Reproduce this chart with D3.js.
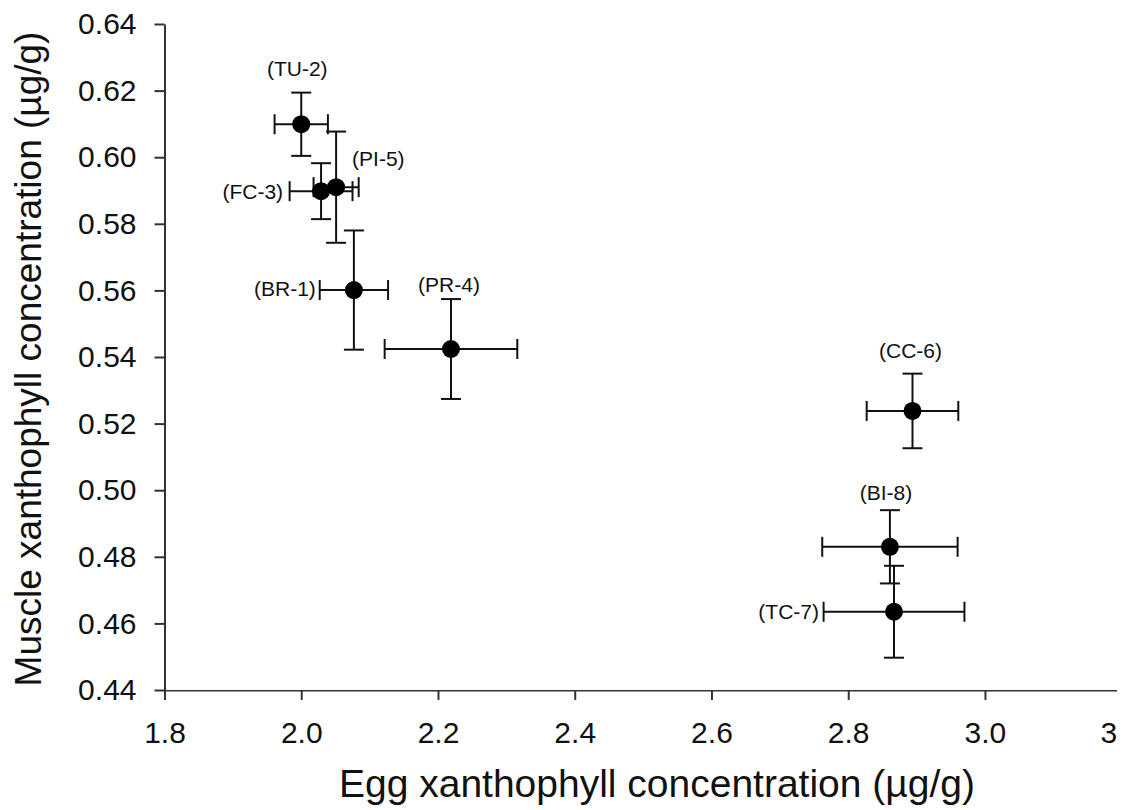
<!DOCTYPE html>
<html><head><meta charset="utf-8">
<script src="https://cdn.jsdelivr.net/npm/d3@7"></script>
<style>
body{margin:0;background:#fff}
svg{display:block}
text{font-family:"Liberation Sans",Arial,Helvetica,sans-serif;fill:#111}
</style>
</head><body>
<svg id="chart" width="1129" height="810"></svg>
<script>
// ---- data ----
const sites      = ["BR-1","TU-2","FC-3","PR-4","PI-5","CC-6","TC-7","BI-8"];
const eggMean    = [2.077, 2.000, 2.029, 2.219, 2.051, 2.894, 2.867, 2.861];
const eggErr     = [0.050, 0.039, 0.046, 0.097, 0.033, 0.067, 0.103, 0.099];
const muscleMean = [0.5601,0.6099,0.5898,0.5424,0.5910,0.5238,0.4635,0.4830];
const muscleErr  = [0.0179,0.0095,0.0084,0.0150,0.0167,0.0112,0.0138,0.0110];
const xTicks      = [1.8, 2.0, 2.2, 2.4, 2.6, 2.8, 3.0, 3.2];
const xTickLabels = ["1.8","2.0","2.2","2.4","2.6","2.8","3.0","3"]; // last label is cut to "3" in the figure
const yTicks = [0.44, 0.46, 0.48, 0.50, 0.52, 0.54, 0.56, 0.58, 0.60, 0.62, 0.64];
const xTitle = "Egg xanthophyll concentration (\u00b5g/g)";
const yTitle = "Muscle xanthophyll concentration (\u00b5g/g)";

// ---- layout (label placement relative to each point) ----
const labelLayout = {
  "BR-1": {anchor:"end",    dx:-38, dy:6},
  "TU-2": {anchor:"middle", dx:-4,  dy:-48},
  "FC-3": {anchor:"end",    dx:-38, dy:8},
  "PR-4": {anchor:"middle", dx:-2,  dy:-57},
  "PI-5": {anchor:"start",  dx:16,  dy:-21},
  "CC-6": {anchor:"middle", dx:-2,  dy:-53},
  "TC-7": {anchor:"end",    dx:-75, dy:7},
  "BI-8": {anchor:"middle", dx:-4,  dy:-47}
};

const data = sites.map((s,i)=>({site:s, x:eggMean[i], xe:eggErr[i], y:muscleMean[i], ye:muscleErr[i]}));

const svg = d3.select("#chart");
svg.append("defs").append("clipPath").attr("id","crop")
  .append("rect").attr("x",0).attr("y",0).attr("width",1117).attr("height",810);
const root = svg.append("g");

const x = d3.scaleLinear().domain([1.8, 3.2]).range([164.5, 1121.7]);
const y = d3.scaleLinear().domain([0.44, 0.64]).range([690, 24]);

// axes
const xAxis = root.append("g").attr("transform","translate(0,690)")
  .call(d3.axisBottom(x).tickValues(xTicks).tickFormat((d,i)=>xTickLabels[i])
        .tickSize(10).tickSizeOuter(0).tickPadding(22));
const yAxis = root.append("g").attr("transform","translate(164.5,0)")
  .call(d3.axisLeft(y).tickValues(yTicks).tickFormat(d3.format(".2f"))
        .tickSize(10).tickSizeOuter(0).tickPadding(18));
[xAxis,yAxis].forEach(a=>{
  a.selectAll("path.domain").attr("stroke","#333").attr("stroke-width",2);
  a.selectAll(".tick line").attr("stroke","#333").attr("stroke-width",2);
  a.selectAll(".tick text").attr("font-size",30).attr("fill","#111")
    .attr("font-family",'"Liberation Sans",Arial,sans-serif');
});
// the figure is cropped at its right edge: axis line stops there, last tick mark hidden,
// and only the leading "3" of the last label remains visible
xAxis.select("path.domain").attr("clip-path","url(#crop)");
xAxis.selectAll(".tick").filter((d,i)=>i===xTicks.length-1).each(function(){
  d3.select(this).select("line").remove();
  d3.select(this).select("text").attr("text-anchor","end").attr("dx",-5);
});

// titles
root.append("text").attr("x",657).attr("y",797).attr("text-anchor","middle")
  .attr("font-size",39).text(xTitle);
root.append("text").attr("transform","translate(41,359) rotate(-90)")
  .attr("text-anchor","middle").attr("font-size",37).text(yTitle);

// error bars
const cap = 10;
const eb = root.append("g").attr("stroke","#111").attr("stroke-width",2).attr("fill","none");
data.forEach(d=>{
  const cx = x(d.x), cy = y(d.y);
  const x0 = x(d.x - d.xe), x1 = x(d.x + d.xe);
  const y0 = y(d.y - d.ye), y1 = y(d.y + d.ye);
  eb.append("line").attr("x1",x0).attr("x2",x1).attr("y1",cy).attr("y2",cy);
  eb.append("line").attr("x1",x0).attr("x2",x0).attr("y1",cy-cap).attr("y2",cy+cap);
  eb.append("line").attr("x1",x1).attr("x2",x1).attr("y1",cy-cap).attr("y2",cy+cap);
  eb.append("line").attr("x1",cx).attr("x2",cx).attr("y1",y0).attr("y2",y1);
  eb.append("line").attr("x1",cx-cap).attr("x2",cx+cap).attr("y1",y0).attr("y2",y0);
  eb.append("line").attr("x1",cx-cap).attr("x2",cx+cap).attr("y1",y1).attr("y2",y1);
});

// points
root.append("g").selectAll("circle").data(data).join("circle")
  .attr("cx",d=>x(d.x)).attr("cy",d=>y(d.y)).attr("r",9).attr("fill","#000");

// labels
root.append("g").selectAll("text").data(data).join("text")
  .attr("x",d=>x(d.x)+labelLayout[d.site].dx)
  .attr("y",d=>y(d.y)+labelLayout[d.site].dy)
  .attr("text-anchor",d=>labelLayout[d.site].anchor)
  .attr("font-size",21)
  .text(d=>"("+d.site+")");
</script>
</body></html>
